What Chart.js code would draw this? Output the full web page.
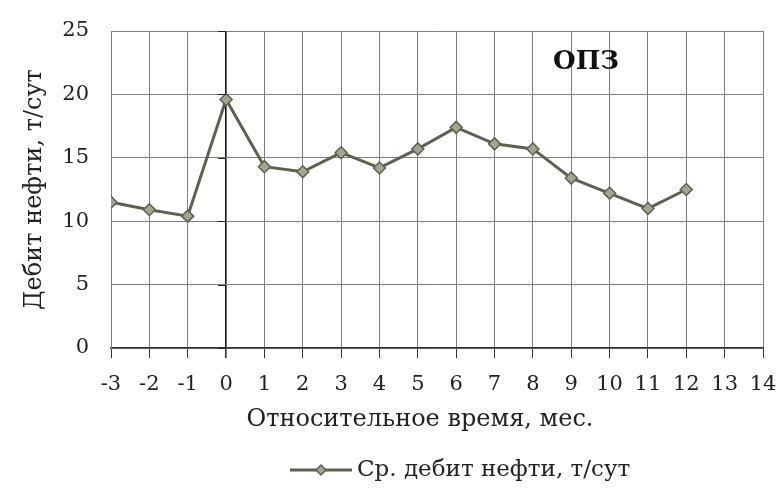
<!DOCTYPE html>
<html><head><meta charset="utf-8">
<script src="https://cdn.jsdelivr.net/npm/chart.js@4"></script>
<style>html,body{margin:0;padding:0;background:#fff}#c{display:block}</style>
</head><body>
<canvas id="c" width="778" height="493"></canvas>
<script>
const months = [-3,-2,-1,0,1,2,3,4,5,6,7,8,9,10,11,12];
const oilRate = [11.5,10.9,10.4,19.6,14.3,13.9,15.4,14.2,15.7,17.4,16.1,15.7,13.4,12.2,11.0,12.5];
const xTicks = [-3,-2,-1,0,1,2,3,4,5,6,7,8,9,10,11,12,13,14];
const yTicks = [0,5,10,15,20,25];
const seriesName = 'Ср. дебит нефти, т/сут';
const titleText = 'ОПЗ';
const xTitle = 'Относительное время, мес.';
const yTitle = 'Дебит нефти, т/сут';

const FONT = "'DejaVu Serif', 'Liberation Serif', serif";
const LINE = '#5d6150';
const FILL = '#a2a68f';

const extras = {
  id: 'extras',
  afterDraw(chart) {
    const ctx = chart.ctx;
    const xs = chart.scales.x, ys = chart.scales.y;
    ctx.save();
    const x0 = xs.getPixelForValue(0);
    ctx.strokeStyle = '#222'; ctx.lineWidth = 1;
    yTicks.forEach(v => {
      const y = Math.round(ys.getPixelForValue(v)) + 0.5;
      ctx.beginPath(); ctx.moveTo(x0 - 8, y); ctx.lineTo(x0, y); ctx.stroke();
    });
    ctx.fillStyle = '#111';
    ctx.font = "bold 26px " + FONT;
    ctx.textAlign = 'center'; ctx.textBaseline = 'middle';
    ctx.fillText(titleText, 586, 62);
    ctx.fillStyle = '#222';
    ctx.font = "24px " + FONT;
    ctx.fillText(xTitle, 420, 420);
    const ly = 470;
    ctx.strokeStyle = LINE; ctx.lineWidth = 3;
    ctx.beginPath(); ctx.moveTo(290, ly); ctx.lineTo(352, ly); ctx.stroke();
    ctx.fillStyle = FILL; ctx.lineWidth = 1.5;
    ctx.beginPath();
    ctx.moveTo(321, ly - 5); ctx.lineTo(326, ly); ctx.lineTo(321, ly + 5); ctx.lineTo(316, ly); ctx.closePath();
    ctx.fill(); ctx.stroke();
    ctx.fillStyle = '#222';
    ctx.font = "23px " + FONT;
    ctx.textAlign = 'left';
    ctx.fillText(seriesName, 357, ly);
    ctx.restore();
  }
};

new Chart(document.getElementById('c'), {
  type: 'line',
  data: {
    datasets: [{
      label: seriesName,
      data: months.map((m, i) => ({x: m, y: oilRate[i]})),
      borderColor: LINE,
      borderWidth: 3,
      pointStyle: 'rectRot',
      pointRadius: 6,
      pointBackgroundColor: FILL,
      pointBorderColor: LINE,
      pointBorderWidth: 1.5,
      tension: 0
    }]
  },
  options: {
    responsive: false,
    animation: false,
    layout: {padding: {left: 16, right: 15, top: 31, bottom: 0}},
    plugins: {legend: {display: false}, tooltip: {enabled: false}},
    scales: {
      x: {
        type: 'linear', min: -3, max: 14,
        afterBuildTicks: s => { s.ticks = xTicks.map(v => ({value: v})); },
        afterFit: s => { s.height = 145; s.paddingRight = 0; s.paddingLeft = 0; },
        grid: {
          color: c => c.tick && c.tick.value === 0 ? '#111' : '#808080',
          lineWidth: c => c.tick && c.tick.value === 0 ? 1.6 : 1,
          tickLength: 10, tickColor: '#333'
        },
        border: {color: '#333', width: 1.5},
        ticks: {color: '#222', font: {family: FONT, size: 21}, padding: 14, maxRotation: 0, autoSkip: false},
        title: {display: false}
      },
      y: {
        min: 0, max: 25,
        afterBuildTicks: s => { s.ticks = yTicks.map(v => ({value: v})); },
        afterFit: s => { s.width = 95; s.paddingTop = 0; s.paddingBottom = 0; },
        grid: {color: '#808080', lineWidth: 1, drawTicks: false},
        border: {color: '#808080'},
        ticks: {color: '#222', font: {family: FONT, size: 21}, padding: 22},
        title: {display: true, text: yTitle, color: '#222', font: {family: FONT, size: 24}, padding: {top: 4, bottom: 4}}
      }
    }
  },
  plugins: [extras]
});
</script>
</body></html>
